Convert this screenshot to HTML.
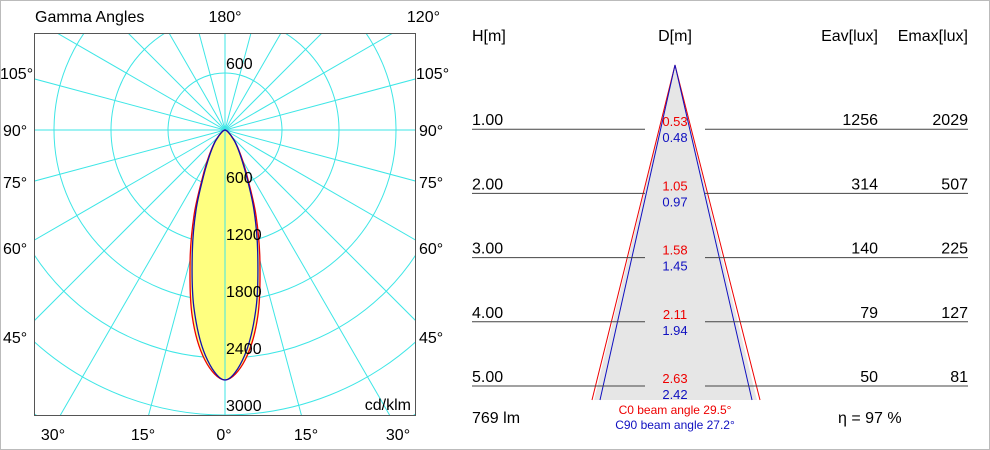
<!DOCTYPE html>
<html><head><meta charset="utf-8"><style>
html,body{margin:0;padding:0;width:990px;height:450px;overflow:hidden;background:#fff}
svg{display:block;font-family:"Liberation Sans",Arial,sans-serif}
</style></head><body>
<svg id="chart" width="990" height="450" viewBox="0 0 990 450">
<rect x="0.5" y="0.5" width="989" height="449" fill="#fff" stroke="#bbb"/>
<g id="polar"></g>
<g id="cone"></g>
</svg>
<script>
const gammaAngles=[0,5,10,15,20,25,30,35,40,45,50,60,70,80,90];
const c0Values=[2632,2430,1990,1420,950,570,370,250,170,110,70,30,10,3,0];
const c90Values=[2632,2380,1890,1330,890,535,345,235,160,100,65,28,9,3,0];
const radialTicks=[600,1200,1800,2400,3000];
const heights=[1,2,3,4,5];
const c0Diam=["0.53","1.05","1.58","2.11","2.63"];
const c90Diam=["0.48","0.97","1.45","1.94","2.42"];
const eav=[1256,314,140,79,50];
const emax=[2029,507,225,127,81];

const NS="http://www.w3.org/2000/svg";
function mk(p,t,a,txt){const e=document.createElementNS(NS,t);for(const k in a)e.setAttribute(k,a[k]);if(txt!==undefined)e.textContent=txt;p.appendChild(e);return e;}
const P=document.getElementById('polar');
const cx=225,cy=130,k=57/600;
const rScale=v=>v*k;
mk(P,'defs',{}).innerHTML='<clipPath id="bx"><rect x="34" y="33" width="382" height="383"/></clipPath>';
const grid=mk(P,'g',{'clip-path':'url(#bx)',stroke:'#3ee6e6','stroke-width':'1',fill:'none'});


for(let a=0;a<360;a+=15){const r=a*Math.PI/180;mk(grid,'line',{x1:cx,y1:cy,x2:cx+600*Math.sin(r),y2:cy+600*Math.cos(r)});}
for(let v=600;v<=6000;v+=600)mk(grid,'circle',{cx:cx,cy:cy,r:rScale(v)});
function pts(vals){const L=[],R=[];gammaAngles.forEach((g,i)=>{const a=g*Math.PI/180,r=rScale(vals[i]);R.push([cx+r*Math.sin(a),cy+r*Math.cos(a)]);if(g>0)L.unshift([cx-r*Math.sin(a),cy+r*Math.cos(a)]);});return L.concat(R);}
function smooth(p){const n=p.length;let d='M'+p[0][0].toFixed(1)+','+p[0][1].toFixed(1);
for(let i=0;i<n-1;i++){const p0=p[Math.max(i-1,0)],p1=p[i],p2=p[i+1],p3=p[Math.min(i+2,n-1)];
const c1=[p1[0]+(p2[0]-p0[0])/6,p1[1]+(p2[1]-p0[1])/6],c2=[p2[0]-(p3[0]-p1[0])/6,p2[1]-(p3[1]-p1[1])/6];
d+=' C'+c1.map(v=>v.toFixed(1))+' '+c2.map(v=>v.toFixed(1))+' '+p2.map(v=>v.toFixed(1));}
return d+'Z';}
const fill=mk(P,'path',{d:smooth(pts(c0Values)),fill:'#ffff80',stroke:'none'});


mk(P,'line',{x1:cx,y1:cy,x2:cx,y2:416,stroke:'#3ee6e6'});
const red=mk(P,'path',{d:smooth(pts(c0Values)),fill:'none',stroke:'#e00','stroke-width':'1.3'});


const blue=mk(P,'path',{d:smooth(pts(c90Values)),fill:'none',stroke:'#1010b0','stroke-width':'1.3'});


mk(P,'rect',{x:34.5,y:33.5,width:381,height:382,fill:'none',stroke:'#555'});
radialTicks.forEach(v=>{const t=mk(P,'text',{x:cx+1,y:cy+rScale(v)-4,'font-size':16},v);});
const t6=mk(P,'text',{x:cx+1,y:cy-rScale(600)-4,'font-size':16},'600');


const lab=[['Gamma Angles',35,22,'start'],['180°',225,22,'middle'],['120°',440,22,'end'],['cd/klm',411,410,'end'],
['105°',0,79,'start'],['90°',3,136,'start'],['75°',3,188,'start'],['60°',3,254,'start'],['45°',3,343,'start'],
['105°',416,79,'start'],['90°',419,136,'start'],['75°',419,188,'start'],['60°',419,254,'start'],['45°',419,343,'start'],
['30°',53,440,'middle'],['15°',143,440,'middle'],['0°',224,440,'middle'],['15°',306,440,'middle'],['30°',398,440,'middle']];
lab.forEach(l=>{const t=mk(P,'text',{x:l[1],y:l[2],'font-size':16,'text-anchor':l[3]},l[0]);});

const C=document.getElementById('cone');
const ax=675,ay=65,by=400,lineY=h=>ay+h*64.2;
const cf=mk(C,'polygon',{points:`${ax},${ay} 594,${by} 757,${by}`,fill:'#e6e6e6',stroke:'none'});


const cr=mk(C,'polyline',{points:`592,${by} ${ax},${ay} 760,${by}`,fill:'none',stroke:'#e00','stroke-width':'1'});


const cb=mk(C,'polyline',{points:`600,${by} ${ax},${ay} 752,${by}`,fill:'none',stroke:'#1010c0','stroke-width':'1'});


[['H[m]',472,'start'],['D[m]',675,'middle'],['Eav[lux]',878,'end'],['Emax[lux]',968,'end']].forEach(h=>{const t=mk(C,'text',{x:h[1],y:41,'font-size':16,'text-anchor':h[2]},h[0]);});
heights.forEach((h,i)=>{const y=lineY(h);
mk(C,'line',{x1:472,y1:y,x2:645,y2:y,stroke:'#444'});mk(C,'line',{x1:705,y1:y,x2:968,y2:y,stroke:'#444'});
const a=mk(C,'text',{x:472,y:y-4,'font-size':16},h.toFixed(2));
const b=mk(C,'text',{x:675,y:y-3,'font-size':13,fill:'#e00','text-anchor':'middle'},c0Diam[i]);
const c=mk(C,'text',{x:675,y:y+13,'font-size':13,fill:'#1010c0','text-anchor':'middle'},c90Diam[i]);
const d=mk(C,'text',{x:878,y:y-4,'font-size':16,'text-anchor':'end'},eav[i]);
const e=mk(C,'text',{x:968,y:y-4,'font-size':16,'text-anchor':'end'},emax[i]);
});
const f1=mk(C,'text',{x:472,y:423,'font-size':16},'769 lm');
const f2=mk(C,'text',{x:675,y:414,'font-size':12,fill:'#e00','text-anchor':'middle'},'C0  beam angle 29.5°');
const f3=mk(C,'text',{x:675,y:429,'font-size':12,fill:'#1010c0','text-anchor':'middle'},'C90 beam angle 27.2°');
const f4=mk(C,'text',{x:838,y:423,'font-size':16},'η   = 97 %');
</script>
</body></html>
